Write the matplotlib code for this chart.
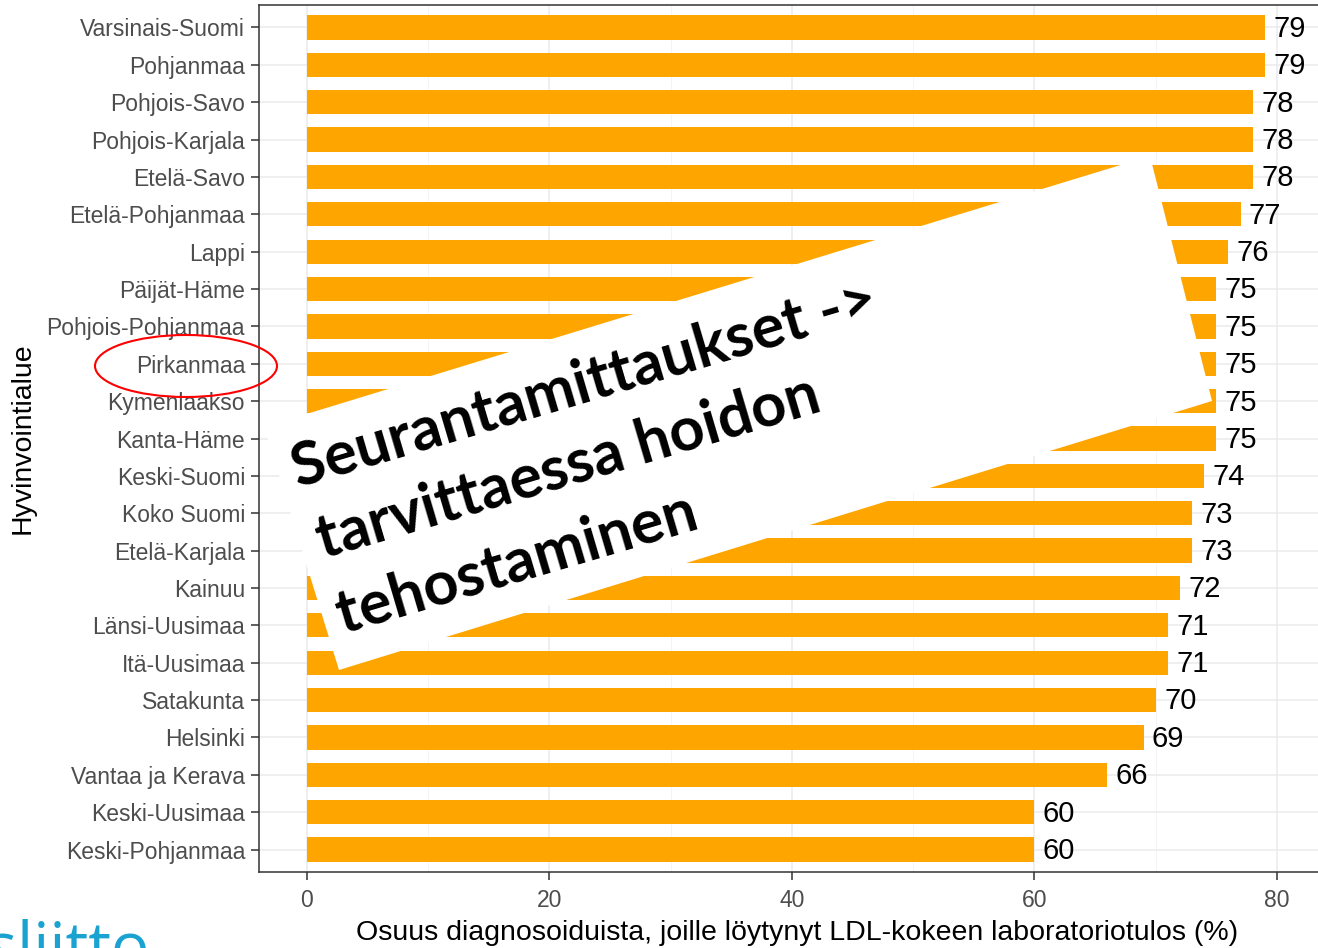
import matplotlib
matplotlib.use("Agg")
import matplotlib.pyplot as plt
from matplotlib.patches import Polygon, Ellipse

# Data (top to bottom as shown)
regions = ["Varsinais-Suomi", "Pohjanmaa", "Pohjois-Savo", "Pohjois-Karjala",
           "Etelä-Savo", "Etelä-Pohjanmaa", "Lappi", "Päijät-Häme",
           "Pohjois-Pohjanmaa", "Pirkanmaa", "Kymenlaakso", "Kanta-Häme",
           "Keski-Suomi", "Koko Suomi", "Etelä-Karjala", "Kainuu",
           "Länsi-Uusimaa", "Itä-Uusimaa", "Satakunta", "Helsinki",
           "Vantaa ja Kerava", "Keski-Uusimaa", "Keski-Pohjanmaa"]
values = [79, 79, 78, 78, 78, 77, 76, 75, 75, 75, 75, 75, 74, 73, 73, 72,
          71, 71, 70, 69, 66, 60, 60]
x_ticks = [0, 20, 40, 60, 80]

W, H = 1318, 948
plt.rcParams['font.family'] = ['Liberation Sans', 'DejaVu Sans']

fig = plt.figure(figsize=(W / 100, H / 100), dpi=100)
ax = fig.add_axes([259 / W, 1 - 872 / H, (1335 - 259) / W, (872 - 5) / H])

n = len(regions)
ypos = [n - 1 - i for i in range(n)]

ax.barh(ypos, values, height=0.65, color='#FFA500', zorder=3)
for y, v in zip(ypos, values):
    ax.annotate(str(v), (v, y), xytext=(6, -1), textcoords='offset points',
                va='center', ha='left', fontsize=21, color='black', zorder=4)

ax.set_ylim(-0.6, n - 1 + 0.6)
ax.set_xlim(-3.95, (1335 - 307) / 12.125)
ax.set_yticks(ypos)
ax.set_yticklabels(regions)
ax.set_xticks(x_ticks)
ax.set_xticks([10, 30, 50, 70], minor=True)

ax.grid(True, which='major', color='#EBEBEB', lw=1.1, zorder=0)
ax.grid(True, which='minor', axis='x', color='#F2F2F2', lw=0.6, zorder=0)
ax.set_axisbelow(True)

ax.tick_params(axis='both', which='major', labelsize=16.5, labelcolor='#4D4D4D',
               color='#333333', length=6, width=1.1, pad=4)
ax.tick_params(axis='x', which='major', pad=6)
ax.tick_params(axis='both', which='minor', length=0)
for s in ax.spines.values():
    s.set_color('#333333')
    s.set_linewidth(1.1)

ax.set_ylabel('Hyvinvointialue', fontsize=20.5, labelpad=8)
ax.set_xlabel('Osuus diagnosoiduista, joille löytynyt LDL-kokeen laboratoriotulos (%)',
              fontsize=20.5, labelpad=6)


def fp(x, y):
    return (x / W, 1 - y / H)


# White rotated callout box
box = Polygon([fp(264, 427), fp(1150, 156), fp(1212, 401), fp(339, 670)],
              closed=True, transform=fig.transFigure, facecolor='white',
              edgecolor='none', zorder=10)
fig.add_artist(box)

lines = [("Seurantamittaukset ->", 298, 488),
         ("tarvittaessa hoidon", 323, 559),
         ("tehostaminen", 343, 634)]
for txt, px, py in lines:
    fig.text(*fp(px, py), txt, rotation=16.5, rotation_mode='anchor',
             ha='left', va='baseline', fontsize=44, fontweight='bold',
             family=['Lato', 'DejaVu Sans'], color='black', zorder=11)

# Red ellipse around Pirkanmaa
ell = Ellipse(fp(186, 366), 182 / W, 62 / H, transform=fig.transFigure,
              fill=False, edgecolor='red', lw=1.5, zorder=12)
fig.add_artist(ell)

# Logo text cut off at the bottom left
fig.text(*fp(150, 968), 'Diabetesliitto', ha='right', va='baseline',
         fontsize=46, color='#1AA3D0', family=['Open Sans', 'DejaVu Sans'])

fig.savefig('out.png', dpi=100)
